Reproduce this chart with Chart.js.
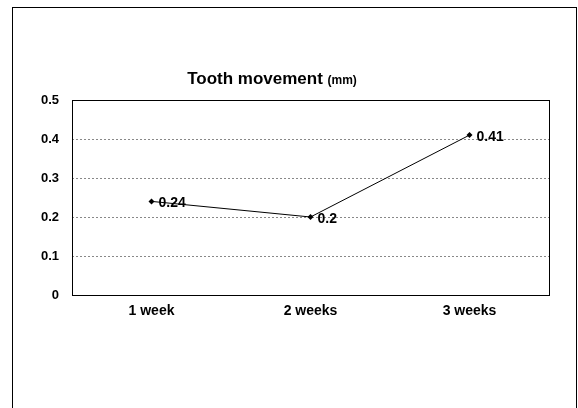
<!DOCTYPE html>
<html>
<head>
<meta charset="utf-8">
<script src="https://cdn.jsdelivr.net/npm/chart.js@4/dist/chart.umd.min.js"></script>
<style>
body { margin: 0; background: #fff; }
#wrap { width: 578px; height: 408px; }
</style>
</head>
<body>
<div id="wrap"><canvas id="line-chart"></canvas></div>
<script>
const labels = ['1 week', '2 weeks', '3 weeks'];
const movement = [0.24, 0.2, 0.41];
const yTicks = [0, 0.1, 0.2, 0.3, 0.4, 0.5];

const fontFamily = '"Liberation Sans", Arial, sans-serif';

// outer frame, plot frame, title and value labels
const extras = {
    id: 'extras',
    beforeDraw(chart) {
        const ctx = chart.ctx;
        ctx.save();
        ctx.fillStyle = '#fff';
        ctx.fillRect(0, 0, chart.width, chart.height);
        ctx.strokeStyle = '#000';
        ctx.lineWidth = 1;
        ctx.strokeRect(12.5, 7.5, 564, 410);
        ctx.restore();
    },
    afterDraw(chart) {
        const ctx = chart.ctx;
        const a = chart.chartArea;
        ctx.save();
        ctx.strokeStyle = '#000';
        ctx.lineWidth = 1;
        ctx.strokeRect(Math.round(a.left) + 0.5, Math.round(a.top) + 0.5,
            Math.round(a.right - a.left), Math.round(a.bottom - a.top));

        // title
        ctx.fillStyle = '#000';
        ctx.textBaseline = 'alphabetic';
        const t1 = 'Tooth movement ';
        ctx.font = 'bold 12px ' + fontFamily;
        const w2 = ctx.measureText('(mm)').width;
        ctx.font = 'bold 17px ' + fontFamily;
        const w1 = ctx.measureText(t1).width;
        let x = 272 - (w1 + w2) / 2;
        ctx.fillText(t1, x, 84);
        ctx.font = 'bold 12px ' + fontFamily;
        ctx.fillText('(mm)', x + w1, 84);

        // value labels
        const meta = chart.getDatasetMeta(0);
        ctx.font = 'bold 14px ' + fontFamily;
        ctx.textBaseline = 'middle';
        meta.data.forEach(function (pt, i) {
            ctx.fillText(String(movement[i]), pt.x + 7, pt.y + 2);
        });
        ctx.restore();
    }
};

const data = {
    labels: labels,
    datasets: [{
        label: 'Tooth movement',
        data: movement,
        borderColor: '#000',
        backgroundColor: '#000',
        borderWidth: 1,
        pointStyle: 'rectRot',
        pointRadius: 3,
        pointBorderWidth: 0,
        tension: 0
    }]
};

const config = {
    type: 'line',
    data: data,
    options: {
        responsive: true,
        maintainAspectRatio: false,
        animation: false,
        layout: { padding: { top: 100, right: 29, left: 0, bottom: 0 } },
        plugins: {
            legend: { display: false },
            title: { display: false },
            tooltip: { enabled: false }
        },
        scales: {
            x: {
                offset: true,
                grid: { display: false, drawTicks: false },
                border: { display: false },
                ticks: {
                    color: '#000',
                    padding: 8,
                    font: { family: fontFamily, size: 14, weight: 'bold' }
                },
                afterFit(scale) { scale.height = 113; }
            },
            y: {
                min: 0,
                max: 0.5,
                afterBuildTicks(scale) {
                    scale.ticks = yTicks.map(function (v) { return { value: v }; });
                },
                grid: {
                    color: function (c) {
                        return (c.tick && (c.tick.value === 0 || c.tick.value === 0.5)) ? 'rgba(0,0,0,0)' : '#888';
                    },
                    lineWidth: 1,
                    drawTicks: false
                },
                border: { display: false, dash: [2, 2] },
                ticks: {
                    color: '#000',
                    padding: 13,
                    font: { family: fontFamily, size: 13, weight: 'bold' },
                    callback: function (v) { return String(v); }
                },
                afterFit(scale) { scale.width = 72; }
            }
        }
    },
    plugins: [extras]
};

const myChart = new Chart(document.getElementById('line-chart'), config);
</script>
</body>
</html>
